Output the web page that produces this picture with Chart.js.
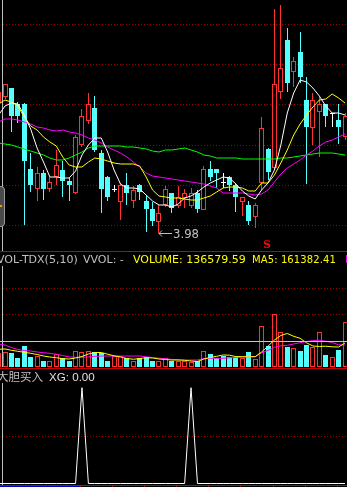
<!DOCTYPE html>
<html>
<head>
<meta charset="utf-8">
<script src="https://cdn.jsdelivr.net/npm/chart.js@4.4.0/dist/chart.umd.min.js"></script>
<style>
  html, body { margin: 0; padding: 0; background: #000; }
  #wrap { position: relative; width: 347px; height: 487px; overflow: hidden; background: #000; }
  .panel { position: absolute; left: 0; width: 347px; }
  .txt { position: absolute; white-space: nowrap; font-family: "DejaVu Sans", sans-serif; font-size: 11px; line-height: 11px; }
  .rule { position: absolute; left: 0; width: 347px; height: 1px; background: #c80000; }
</style>
</head>
<body>
<div id="wrap">
  <div class="panel" style="top:0;height:251px"><canvas id="priceChart"></canvas></div>
  <div class="rule" style="top:251px"></div>
  <!-- edge of the floating info window -->
  <div style="position:absolute;left:-7px;top:186px;width:10px;height:39px;border:1px solid #9a9a9a;border-radius:4px;background:#4a4a4a"></div>
  <div style="position:absolute;left:0;top:205px;width:2px;height:2px;background:#ff9900"></div>

  <div class="txt" style="top:254px;left:-3px;color:#c0c0c0">VOL-TDX(5,10)</div>
  <div class="txt" style="top:254px;left:83px;color:#c0c0c0">VVOL: -</div>
  <div class="txt" style="top:254px;left:133px;color:#ffff00">VOLUME: 136579.59</div>
  <div class="txt" style="top:254px;left:252px;color:#ffff00;font-size:10px;letter-spacing:0.1px">MA5: 161382.41</div>
  <div class="txt" style="top:254px;left:345px;color:#ff00ff">MA10:</div>

  <div class="panel" style="top:266px;height:101px"><canvas id="volChart"></canvas></div>
  <div class="rule" style="top:368px"></div>

  <div class="txt" style="top:371px;left:-3px;color:#c0c0c0;font-family:'Noto Sans CJK SC',sans-serif;font-size:11.5px">大胆买入</div>
  <div class="txt" style="top:371px;left:49px;color:#e0e0e0;font-family:'Liberation Sans',sans-serif;font-size:11.6px">XG: 0.00</div>

  <div class="panel" style="top:383px;height:104px"><canvas id="xgChart"></canvas></div>
</div>

<script>
// trading days shown (index 0 is the partly cut first candle)
const days = [0, 1, 2, 3, 4, 5, 6, 7, 8, 9, 10, 11, 12, 13, 14, 15, 16, 17, 18, 19,
  20, 21, 22, 23, 24, 25, 26, 27, 28, 29, 30, 31, 32, 33, 34, 35, 36, 37, 38, 39,
  40, 41, 42, 43, 44, 45, 46, 47, 48, 49, 50, 51, 52, 53, 54];

const open = [4.630, 4.660, 4.705, 4.625, 4.625, 4.300, 4.200, 4.280, 4.200, 4.260,
  4.295, 4.240, 4.180, 4.420, 4.540, 4.605, 4.380, 4.260, 4.200, 4.135,
  4.220, 4.140, 4.220, 4.140, 4.100, 4.035, 4.120, 4.180, 4.115, 4.155,
  4.115, 4.180, 4.095, 4.300, 4.300, 4.235, 4.260, 4.220, 4.135, 4.120,
  4.060, 4.230, 4.400, 4.305, 4.685, 4.945, 4.785, 4.885, 4.645, 4.505,
  4.585, 4.625, 4.580, 4.545, 4.460];
const high = [4.695, 4.725, 4.705, 4.635, 4.630, 4.380, 4.310, 4.295, 4.260, 4.395,
  4.340, 4.255, 4.470, 4.600, 4.680, 4.665, 4.395, 4.265, 4.220, 4.230,
  4.280, 4.215, 4.225, 4.170, 4.135, 4.120, 4.215, 4.180, 4.215, 4.200,
  4.205, 4.195, 4.315, 4.340, 4.300, 4.280, 4.265, 4.230, 4.160, 4.140,
  4.130, 4.560, 4.405, 5.100, 5.120, 5.005, 4.860, 4.985, 4.760, 4.680,
  4.660, 4.625, 4.580, 4.625, 4.580];
const low = [4.620, 4.650, 4.485, 4.530, 4.020, 4.185, 4.140, 4.145, 4.185, 4.220,
  4.160, 4.140, 4.175, 4.410, 4.525, 4.385, 4.080, 4.140, 4.185, 4.045,
  4.120, 4.105, 4.145, 3.985, 4.015, 3.980, 4.110, 4.080, 4.105, 4.105,
  4.105, 4.080, 4.095, 4.240, 4.205, 4.205, 4.190, 4.085, 4.065, 4.020,
  4.005, 4.195, 4.245, 4.295, 4.650, 4.685, 4.710, 4.730, 4.225, 4.420,
  4.360, 4.510, 4.510, 4.425, 4.445];
const close = [4.685, 4.725, 4.565, 4.565, 4.340, 4.220, 4.280, 4.200, 4.235, 4.320,
  4.240, 4.220, 4.460, 4.565, 4.625, 4.395, 4.200, 4.160, 4.200, 4.220,
  4.180, 4.195, 4.185, 4.100, 4.040, 4.080, 4.200, 4.105, 4.160, 4.180,
  4.180, 4.100, 4.300, 4.260, 4.280, 4.235, 4.220, 4.160, 4.160, 4.040,
  4.120, 4.505, 4.285, 4.725, 4.805, 4.730, 4.840, 4.760, 4.510, 4.645,
  4.625, 4.565, 4.580, 4.510, 4.565];

const ma5 = [4.570, 4.615, 4.630, 4.625, 4.570, 4.500, 4.405, 4.335, 4.260, 4.260,
  4.255, 4.255, 4.290, 4.370, 4.420, 4.455, 4.455, 4.385, 4.295, 4.225,
  4.205, 4.205, 4.200, 4.170, 4.140, 4.120, 4.120, 4.110, 4.125, 4.155,
  4.165, 4.185, 4.210, 4.230, 4.245, 4.260, 4.255, 4.225, 4.190, 4.165,
  4.150, 4.195, 4.230, 4.295, 4.420, 4.580, 4.680, 4.745, 4.735, 4.705,
  4.665, 4.615, 4.580, 4.580, 4.570];
const ma10 = [4.625, 4.645, 4.635, 4.615, 4.560, 4.515, 4.495, 4.460, 4.435, 4.415,
  4.360, 4.320, 4.310, 4.310, 4.335, 4.355, 4.350, 4.340, 4.330, 4.325,
  4.325, 4.325, 4.315, 4.260, 4.195, 4.165, 4.160, 4.155, 4.155, 4.150,
  4.145, 4.145, 4.155, 4.165, 4.185, 4.205, 4.210, 4.210, 4.205, 4.190,
  4.190, 4.230, 4.230, 4.270, 4.330, 4.395, 4.470, 4.525, 4.570, 4.610,
  4.645, 4.650, 4.675, 4.655, 4.630];
const ma20 = [4.535, 4.550, 4.550, 4.545, 4.535, 4.525, 4.510, 4.505, 4.495, 4.490,
  4.495, 4.485, 4.480, 4.470, 4.455, 4.445, 4.430, 4.410, 4.395, 4.380,
  4.360, 4.335, 4.310, 4.280, 4.265, 4.260, 4.255, 4.250, 4.245, 4.240,
  4.235, 4.230, 4.225, 4.215, 4.205, 4.180, 4.180, 4.180, 4.180, 4.175,
  4.170, 4.175, 4.195, 4.235, 4.275, 4.305, 4.325, 4.345, 4.370, 4.390,
  4.415, 4.435, 4.445, 4.460, 4.475];
const ma60 = [4.430, 4.425, 4.420, 4.410, 4.400, 4.390, 4.380, 4.370, 4.355, 4.345,
  4.345, 4.355, 4.370, 4.385, 4.405, 4.415, 4.415, 4.415, 4.415, 4.415,
  4.410, 4.410, 4.405, 4.400, 4.390, 4.385, 4.395, 4.395, 4.400, 4.405,
  4.395, 4.385, 4.370, 4.365, 4.355, 4.355, 4.355, 4.355, 4.350, 4.350,
  4.350, 4.350, 4.350, 4.350, 4.355, 4.355, 4.360, 4.365, 4.370, 4.375,
  4.380, 4.380, 4.380, 4.375, 4.370];

const volume = [125000, 136580, 127700, 83000, 187500, 92000, 98200, 56300, 56300, 113400,
  77700, 56300, 142900, 134000, 142900, 134000, 127700, 56300, 98200, 98200,
  77700, 56300, 77700, 92000, 56300, 56300, 77700, 56300, 56300, 56300,
  42000, 53600, 142900, 116100, 83000, 98200, 86600, 86600, 77700, 134000,
  68800, 366100, 187500, 473300, 309900, 178600, 167000, 142900, 196500, 181300,
  309900, 107200, 86600, 151800, 401900];
const volMa5 = [158100, 161382, 149100, 140200, 131300, 122300, 111600, 98200, 89300, 83000,
  74100, 71400, 80400, 93800, 116100, 128600, 129500, 114300, 100000, 89300,
  75900, 68800, 75900, 82200, 80400, 71400, 67000, 62500, 62500, 59800,
  53600, 49100, 71400, 84800, 95600, 107200, 105400, 92900, 92000, 92000,
  92000, 134000, 185700, 241100, 281300, 299200, 274200, 256300, 216100, 187500,
  183100, 185700, 180400, 178600, 214300];
const volMa10 = [205400, 196500, 174100, 156300, 147300, 142900, 134000, 127700, 122300, 113400,
  102700, 89300, 86600, 86600, 91100, 93800, 98200, 98200, 98200, 98200,
  98200, 98200, 98200, 91100, 84800, 78600, 73200, 67900, 65200, 62500,
  62500, 62500, 75900, 77700, 77700, 77700, 82200, 86600, 89300, 92000,
  92000, 126800, 147300, 175900, 189300, 193800, 205400, 217000, 227700, 234900,
  239300, 230400, 217900, 198200, 196500];

// 大胆买入 signal line (XG)
const xg = [0, 0, 0, 0, 0, 0, 0, 0, 0, 0, 0, 0, 0, 1, 0, 0, 0, 0, 0, 0,
  0, 0, 0, 0, 0, 0, 0, 0, 0, 0, 1, 0, 0, 0, 0, 0, 0, 0, 0, 0,
  0, 0, 0, 0, 0, 0, 0, 0, 0, 0, 0, 0, 0, 0, 0];

const sellSignals = [42];

// horizontal grid levels of each panel
const priceGrid = [5.025, 4.825, 4.625, 4.420, 4.220, 4.020];
const volGrid = [232000, 469000, 705000];
const xgGrid = [0.5];
// small marks on the time axis, every 5 days
const timeMarks = [12.7, 17.7, 22.7, 27.7, 32.7, 37.7, 42.7, 47.7, 52.7];

const RED = '#ff3232';
const CYAN = '#54ffff';

const candleColor = days.map((d, i) => close[i] > open[i] ? RED : close[i] < open[i] ? CYAN : '#ffffff');
const candleFill = days.map((d, i) => close[i] > open[i] ? '#000000' : candleColor[i]);
const volUp = days.map((d, i) => close[i] > open[i] || (close[i] === open[i] && i > 0 && close[i] >= close[i - 1]));

const pts = arr => arr.map((v, i) => ({ x: days[i], y: v }));

const xScale = { type: 'linear', min: 0.22, max: 54.31, offset: false, display: false };

// snap bar rectangles to whole pixels so candles stay crisp
const snapBars = {
    id: 'snapBars',
    beforeDatasetsDraw(chart) {
        chart.data.datasets.forEach((ds, i) => {
            const meta = chart.getDatasetMeta(i);
            if (meta.type !== 'bar') return;
            meta.data.forEach(el => {
                el.x = Math.floor(el.x) + 0.5;
                el.y = Math.round(el.y);
                el.base = Math.round(el.base);
                if (Math.abs(el.base - el.y) < 1) el.base = el.y + 1;
            });
        });
    }
};

const panelFrame = {
    id: 'panelFrame',
    beforeDatasetsDraw(chart, args, opts) {
        const { ctx, chartArea: a, scales } = chart;
        const bottom = opts.frameBottom != null ? Math.round(scales.y.getPixelForValue(opts.frameBottom)) : a.bottom;
        ctx.save();
        ctx.lineWidth = 1;
        ctx.strokeStyle = '#a00000';
        ctx.setLineDash([1, 2]);
        (opts.levels || []).forEach(v => {
            const py = Math.round(scales.y.getPixelForValue(v)) + 0.5;
            ctx.beginPath();
            ctx.moveTo(a.left + 3, py);
            ctx.lineTo(a.right, py);
            ctx.stroke();
        });
        ctx.setLineDash([]);
        ctx.strokeStyle = '#c0c0c0';
        ctx.beginPath();
        ctx.moveTo(a.left + 2.5, a.top);
        ctx.lineTo(a.left + 2.5, bottom);
        ctx.stroke();
        ctx.restore();
    },
    afterDatasetsDraw(chart, args, opts) {
        const { ctx, chartArea: a, scales } = chart;
        ctx.save();
        ctx.lineWidth = 1;
        if (opts.cursor != null) {
            const py = Math.round(scales.y.getPixelForValue(opts.cursor)) + 0.5;
            ctx.strokeStyle = '#c8c8c8';
            ctx.beginPath();
            ctx.moveTo(a.left, py);
            ctx.lineTo(a.right, py);
            ctx.stroke();
        }
        if (opts.frameBottom != null) {
            // bottom frame line with time marks and scroll strip
            const py = Math.round(scales.y.getPixelForValue(opts.frameBottom)) + 0.5;
            ctx.strokeStyle = '#c80000';
            ctx.beginPath();
            ctx.moveTo(a.left, py);
            ctx.lineTo(a.right, py);
            timeMarks.forEach(t => {
                const tx = Math.round(scales.x.getPixelForValue(t)) + 0.5;
                ctx.moveTo(tx, py);
                ctx.lineTo(tx, py + 2);
            });
            ctx.stroke();
            ctx.strokeStyle = '#0000c8';
            ctx.beginPath();
            ctx.moveTo(a.left, py + 1);
            ctx.lineTo(scales.x.getPixelForValue(12.7), py + 1);
            ctx.stroke();
        }
        ctx.restore();
    }
};

// lowest price marker and sell signals
const priceNotes = {
    id: 'priceNotes',
    afterDatasetsDraw(chart) {
        const { ctx, scales: { x, y } } = chart;
        const minLow = Math.min(...low);
        const i = low.indexOf(minLow);
        const px = Math.floor(x.getPixelForValue(days[i])) + 1;
        const py = Math.round(y.getPixelForValue(minLow)) + 0.5;
        ctx.save();
        ctx.strokeStyle = '#c0c0c0';
        ctx.fillStyle = '#c0c0c0';
        ctx.lineWidth = 1;
        ctx.beginPath();
        ctx.moveTo(px, py);
        ctx.lineTo(px + 13, py);
        ctx.moveTo(px + 3, py - 3);
        ctx.lineTo(px, py);
        ctx.lineTo(px + 3, py + 3);
        ctx.stroke();
        ctx.font = '13px "Liberation Sans Narrow", "DejaVu Sans Condensed", sans-serif';
        ctx.textBaseline = 'middle';
        ctx.fillText(minLow.toFixed(2), px + 14, py + 1);

        ctx.fillStyle = '#ff0000';
        ctx.font = 'bold 11px "DejaVu Serif", serif';
        ctx.textAlign = 'center';
        ctx.textBaseline = 'top';
        sellSignals.forEach(d => {
            const sx = x.getPixelForValue(d) - 1;
            ctx.fillText('S', sx, 240);
        });
        ctx.restore();
    }
};

const baseOptions = (yMin, yMax, frame) => ({
    responsive: true,
    maintainAspectRatio: false,
    animation: false,
    events: [],
    layout: { padding: 0 },
    scales: {
        x: xScale,
        y: { type: 'linear', min: yMin, max: yMax, display: false }
    },
    plugins: {
        legend: { display: false },
        tooltip: { enabled: false },
        panelFrame: frame
    }
});

const lineSet = (data, color, order) => ({
    type: 'line',
    data: pts(data),
    borderColor: color,
    borderWidth: 1,
    pointRadius: 0,
    tension: 0,
    fill: false,
    order
});

new Chart(document.getElementById('priceChart'), {
    type: 'bar',
    data: {
        datasets: [
            lineSet(ma5, '#ffffff', 0),
            lineSet(ma10, '#ffff00', 1),
            lineSet(ma20, '#ff00ff', 2),
            lineSet(ma60, '#00ff00', 3),
            {
                // candle bodies
                data: days.map((d, i) => ({ x: d, y: [open[i], close[i]] })),
                backgroundColor: candleFill,
                borderColor: candleColor,
                borderWidth: 1,
                borderSkipped: false,
                barThickness: 5,
                maxBarThickness: 5,
                inflateAmount: 0,
                grouped: false,
                order: 5
            },
            {
                // shadows
                data: days.map((d, i) => ({ x: d, y: [low[i], high[i]] })),
                backgroundColor: candleColor,
                borderWidth: 0,
                barThickness: 1,
                maxBarThickness: 1,
                inflateAmount: 0,
                grouped: false,
                order: 6
            }
        ]
    },
    options: baseOptions(3.89, 5.145, { levels: priceGrid }),
    plugins: [snapBars, panelFrame, priceNotes]
});

new Chart(document.getElementById('volChart'), {
    type: 'bar',
    data: {
        datasets: [
            lineSet(volMa5, '#ffff00', 0),
            lineSet(volMa10, '#ff00ff', 1),
            {
                data: pts(volume),
                backgroundColor: volUp.map(u => u ? '#000000' : CYAN),
                borderColor: volUp.map(u => u ? RED : CYAN),
                borderWidth: 1,
                borderSkipped: false,
                barThickness: 5,
                maxBarThickness: 5,
                inflateAmount: 0,
                grouped: false,
                order: 5
            }
        ]
    },
    options: baseOptions(0, 902000, { levels: volGrid, cursor: 232000 }),
    plugins: [snapBars, panelFrame]
});

new Chart(document.getElementById('xgChart'), {
    type: 'line',
    data: {
        datasets: [lineSet(xg, '#ffffff', 0)]
    },
    options: baseOptions(-0.0365, 1.049, { levels: xgGrid, frameBottom: -0.016 }),
    plugins: [panelFrame]
});
</script>
</body>
</html>
